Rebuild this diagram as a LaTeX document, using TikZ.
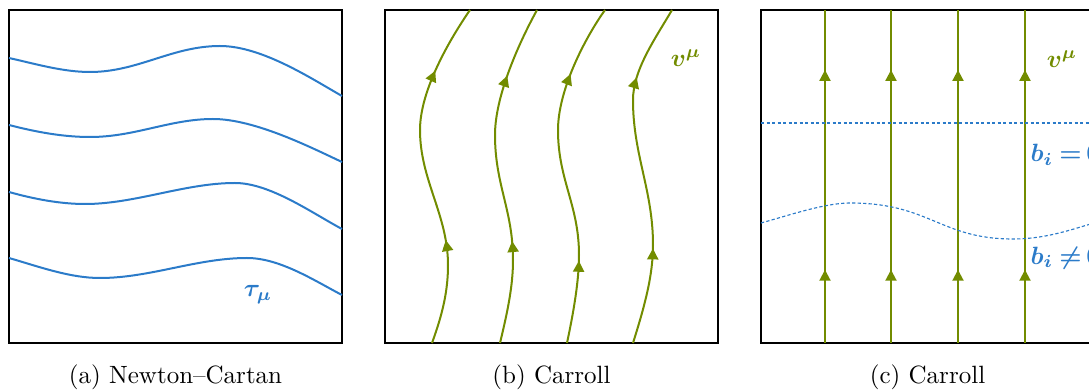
\documentclass[tikz,border=0pt]{standalone}
\usepackage{amsmath}
\usetikzlibrary{
  arrows.meta,
  positioning,
  decorations.markings
}
\definecolor{ncBlue}{HTML}{2B7BC9}
\definecolor{crGreen}{HTML}{728C00}
\tikzset{
  panelbox/.style={
    draw=black, line width=0.7pt, minimum width=133.2pt, minimum height=133.2pt, inner sep=0pt
  },
  captext/.style={font=\normalsize},
  foliation/.style={line width=0.8pt, ncBlue},
  dashfol/.style={line width=0.45pt, ncBlue, dash pattern=on 1.3pt off 0.9pt},
  flowline/.style 2 args={
    line width=0.8pt, crGreen, postaction={decorate},
    decoration={markings,
      mark=at position #1 with {\arrow{Triangle[length=4.4pt, width=4.4pt]}},
      mark=at position #2 with {\arrow{Triangle[length=4.4pt, width=4.4pt]}}}
  },
  tag/.style={inner sep=0pt, font=\boldmath}
}

\begin{document}
\begin{tikzpicture}[x=0.4pt, y=-0.4pt, node distance=4.8pt]
  \clip (0,0) rectangle (1089,392);

  \node[panelbox] (pa) at (175.5,176.5) {};
  \node[panelbox] (pb) at (551.5,176.5) {};
  \node[panelbox] (pc) at (927.5,176.5) {};
  \node[captext, below=of pa] (capa) {(a) Newton--Cartan};
  \node[captext, below=of pb] (capb) {(b) Carroll};
  \node[captext, below=of pc] (capc) {(c) Carroll};

  % (a) level sets of the clock form
  \draw[foliation] (9,58) .. controls (36,64) and (63,72) .. (90,72)
    .. controls (138,72) and (172,46) .. (220,46)
    .. controls (262,46) and (312,79) .. (342,96);
  \draw[foliation] (9,125) .. controls (36,132) and (63,137) .. (90,137)
    .. controls (135,137) and (170,119) .. (213,119)
    .. controls (255,119) and (312,148) .. (342,162);
  \draw[foliation] (9,192) .. controls (34,199) and (60,204) .. (85,204)
    .. controls (135,204) and (185,183) .. (235,183)
    .. controls (270,183) and (312,213) .. (342,229);
  \draw[foliation] (9,258) .. controls (40,267) and (70,278) .. (100,278)
    .. controls (150,278) and (197,258) .. (247,258)
    .. controls (280,258) and (315,281) .. (342,295);
  \node[tag, text=ncBlue] (tau) at (258,295) {$\tau_\mu$};

  % (b) curved Carroll flow
  \draw[flowline={0.3}{0.8}] (432,343) .. controls (443,313) and (448,290) .. (448,265)
    .. controls (448,215) and (420,180) .. (420,130)
    .. controls (420,90) and (450,39) .. (470,10);
  \draw[flowline={0.3}{0.79}] (500,343) .. controls (508,310) and (513,285) .. (513,260)
    .. controls (513,210) and (495,185) .. (495,135)
    .. controls (495,95) and (520,41) .. (537,10);
  \draw[flowline={0.24}{0.79}] (567,343) .. controls (574,310) and (579,280) .. (579,255)
    .. controls (579,205) and (558,180) .. (558,130)
    .. controls (558,90) and (585,38) .. (605,10);
  \draw[flowline={0.28}{0.78}] (633,343) .. controls (645,305) and (653,275) .. (653,245)
    .. controls (653,190) and (633,155) .. (633,100)
    .. controls (633,70) and (655,39) .. (672,10);
  \node[tag, text=crGreen] (vb) at (686,58) {$v^\mu$};

  % (c) straight Carroll flow
  \foreach \x in {825,891,958,1025} {
    \coordinate (lo\x) at (\x,343);
    \coordinate (hi\x) at (\x,10);
    \draw[flowline={0.22}{0.82}] (lo\x) -- (hi\x);
  }
  \coordinate (flatl) at (761,123);
  \coordinate (flatr) at (1094,123);
  \draw[dashfol] (flatl) -- (flatr);
  \draw[dashfol] (761,223) .. controls (790,215) and (825,203) .. (850,203)
    .. controls (930,203) and (940,239) .. (1013,239)
    .. controls (1045,239) and (1070,230) .. (1094,223);
  \node[tag, text=crGreen] (vc) at (1062,59) {$v^\mu$};
  \node[tag, text=ncBlue, anchor=west] (bzero) at (1030,155) {$b_i\mkern4mu{=}\mkern3mu0$};
  \node[tag, text=ncBlue, anchor=west] (bnonzero) at (1030,258) {$b_i\mkern4mu{\neq}\mkern3mu0$};
\end{tikzpicture}
\end{document}
